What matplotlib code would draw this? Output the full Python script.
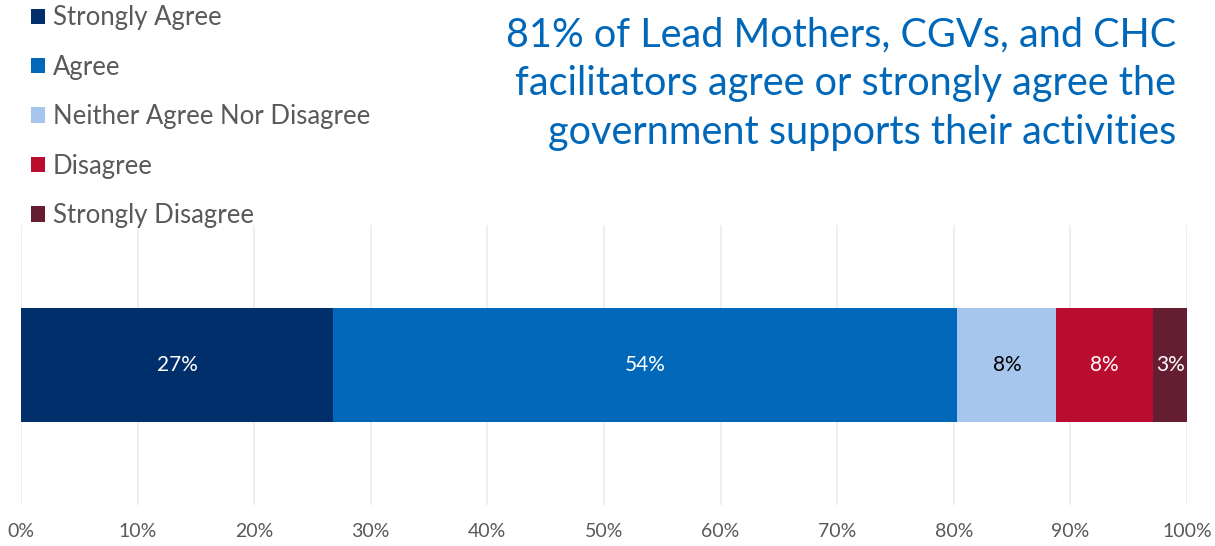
import matplotlib
matplotlib.use("Agg")
import matplotlib.pyplot as plt
from matplotlib.patches import Patch
import numpy as np

categories = ["Strongly Agree", "Agree", "Neither Agree Nor Disagree", "Disagree", "Strongly Disagree"]
values = [26.8, 53.5, 8.5, 8.3, 2.9]
labels = ["27%", "54%", "8%", "8%", "3%"]
colors = ["#002F6C", "#0067B9", "#A7C6ED", "#BA0C2F", "#651D32"]
label_colors = ["white", "white", "black", "white", "white"]
ticks = list(range(0, 101, 10))
tick_labels = [f"{t}%" for t in ticks]
title = "81% of Lead Mothers, CGVs, and CHC\nfacilitators agree or strongly agree the\ngovernment supports their activities"

plt.rcParams['font.family'] = ['Lato', 'DejaVu Sans']

fig = plt.figure(figsize=(12.15, 5.46), dpi=100)
ax = fig.add_axes([21/1215, 1 - 505/546, (1187-21)/1215, 280/546])

left = 0
for v, c, lab, lc in zip(values, colors, labels, label_colors):
    ax.barh([0], [v], left=left, height=0.41, color=c, zorder=3)
    ax.text(left + v/2, 0, lab, ha='center', va='center', color=lc, fontsize=15, zorder=4)
    left += v

ax.set_xlim(0, 100)
ax.set_ylim(-0.5, 0.5)
ax.set_xticks(ticks)
ax.set_xticklabels(tick_labels, fontsize=14, color="#595959")
ax.set_yticks([])
ax.tick_params(axis='x', length=0, pad=13)
ax.grid(axis='x', color="#EBEBEB", linewidth=1.2, zorder=0)
for s in ax.spines.values():
    s.set_visible(False)

handles = [Patch(facecolor=c, edgecolor='none') for c in colors]
leg = fig.legend(handles, categories, loc='upper left', bbox_to_anchor=(21/1215, 1.009),
                 frameon=False, fontsize=18.5, labelspacing=0.95, handlelength=0.55,
                 handleheight=0.55, handletextpad=0.3, borderaxespad=0)
for t in leg.get_texts():
    t.set_color("#595959")

fig.text(1176/1215, 1 - 16/546, title, ha='right', va='top', fontsize=28.5,
         color="#0067B9", linespacing=1.40)

fig.savefig("out.png", dpi=100)
